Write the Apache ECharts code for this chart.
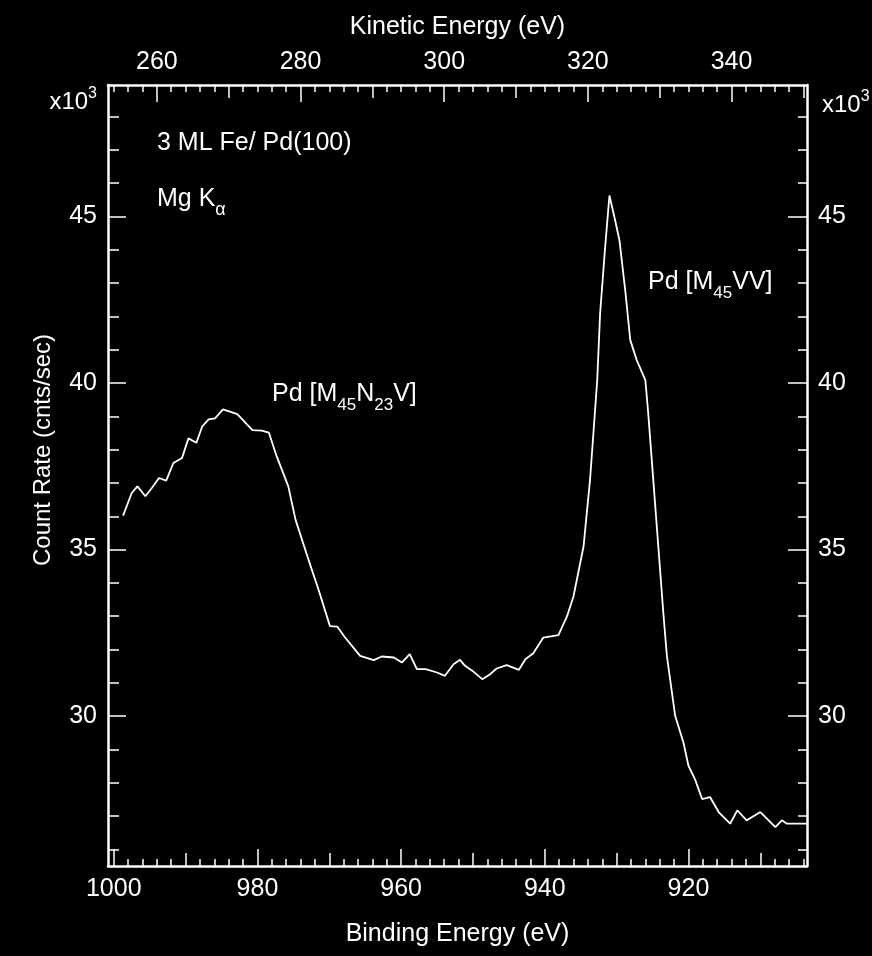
<!DOCTYPE html>
<html>
<head>
<meta charset="utf-8">
<script src="https://cdn.jsdelivr.net/npm/echarts@6/dist/echarts.min.js"></script>
<style>
html,body{margin:0;padding:0;background:#000;}
#chart{width:872px;height:956px;}
</style>
</head>
<body>
<div id="chart"></div>
<script>
// ---- data (binding energy in eV, count rate in 10^3 cnts/sec) ----
const bindingEnergy = [998.7,997.5,996.7,995.6,994.7,993.7,992.7,991.7,990.5,989.6,988.5,987.7,986.8,985.9,984.8,982.8,980.7,979.4,978.4,977.3,975.7,974.7,972.9,971.5,969.9,968.9,967.8,965.7,963.8,962.7,961.0,959.9,958.8,957.8,956.6,955.0,953.9,952.7,951.8,951.1,949.9,948.7,947.6,946.7,945.3,943.6,942.7,941.6,940.2,938.1,936.9,936.0,934.6,933.7,933.2,932.7,932.3,931.6,931.0,930.2,929.6,928.8,928.1,927.2,926.0,925.6,924.9,924.2,923.5,923.0,921.85,920.7,920.0,919.1,918.1,917.0,915.8,914.2,913.2,911.9,910.0,907.9,907.0,906.3,903.6];
const countRate = [36.02,36.70,36.90,36.60,36.85,37.15,37.07,37.60,37.75,38.34,38.21,38.69,38.91,38.94,39.21,39.07,38.59,38.57,38.51,37.79,36.90,35.90,34.70,33.80,32.70,32.69,32.36,31.81,31.68,31.79,31.76,31.61,31.86,31.41,31.41,31.31,31.21,31.56,31.69,31.51,31.33,31.11,31.26,31.43,31.53,31.39,31.71,31.89,32.36,32.43,33.00,33.60,35.10,37.10,38.59,40.09,42.09,44.08,45.63,44.88,44.28,42.78,41.29,40.69,40.09,39.09,37.10,35.10,33.10,31.80,30.01,29.21,28.51,28.11,27.51,27.57,27.12,26.77,27.17,26.87,27.12,26.67,26.87,26.77,26.77];

// ---- axis ranges and tick values ----
const BE_MIN = 903.5, BE_MAX = 1000.8;
const KE_MIN = 253.2, KE_MAX = 350.5;
const Y_MIN = 25.5, Y_MAX = 48.95;
const beMajor = [1000, 980, 960, 940, 920];
const beMid = [990, 970, 950, 930, 910];
const keMajor = [260, 280, 300, 320, 340];
const keMid = [270, 290, 310, 330, 350];
const yMajor = [30, 35, 40, 45];

function minorTicks(lo, hi, step, skip) {
  const out = [];
  for (let v = lo; v <= hi; v += step) {
    if (v % skip !== 0) out.push(v);
  }
  return out;
}
const beMinor = minorTicks(904, 1000, 2, 10);
const keMinor = minorTicks(254, 350, 2, 10);
const yMinor = minorTicks(26, 48, 1, 5);

const FONT = '"Liberation Sans", Arial, sans-serif';
const WHITE = '#ffffff';
const FS = 25;

function xAxisDef(pos, min, max, inverse, vals, len, withLabel, name, nameGap, showLine, labelMargin) {
  return {
    type: 'value', position: pos, min: min, max: max, inverse: inverse,
    splitLine: {show: false},
    axisLine: {show: showLine, onZero: false, lineStyle: {color: WHITE, width: 2.5}},
    axisTick: {show: true, inside: true, length: len, customValues: vals, lineStyle: {color: WHITE, width: 1.5}},
    axisLabel: {show: withLabel, customValues: vals, color: WHITE, fontSize: FS, fontFamily: FONT, margin: labelMargin,
                formatter: v => String(v)},
    name: name, nameLocation: 'middle', nameGap: nameGap,
    nameTextStyle: {color: WHITE, fontSize: FS, fontFamily: FONT}
  };
}
function yAxisDef(pos, vals, len, withLabel, showLine) {
  return {
    type: 'value', position: pos, min: Y_MIN, max: Y_MAX,
    splitLine: {show: false},
    axisLine: {show: showLine, onZero: false, lineStyle: {color: WHITE, width: 2.5}},
    axisTick: {show: true, inside: true, length: len, customValues: vals, lineStyle: {color: WHITE, width: 1.5}},
    axisLabel: {show: withLabel, customValues: vals, color: WHITE, fontSize: FS, fontFamily: FONT, margin: 11,
                formatter: v => String(v)}
  };
}

const seriesData = bindingEnergy.map((b, i) => [b, countRate[i]]);

const chart = echarts.init(document.getElementById('chart'), null, {renderer: 'canvas'});
chart.setOption({
  backgroundColor: '#000',
  animation: false,
  grid: {left: 108, right: 65, top: 85, bottom: 90, containLabel: false, outerBoundsMode: 'none'},
  xAxis: [
    xAxisDef('bottom', BE_MIN, BE_MAX, true, beMajor, 17, true, 'Binding Energy (eV)', 56, true, 11),
    xAxisDef('bottom', BE_MIN, BE_MAX, true, beMid, 13, false, '', 0, false, 11),
    xAxisDef('bottom', BE_MIN, BE_MAX, true, beMinor, 7, false, '', 0, false, 11),
    xAxisDef('top', KE_MIN, KE_MAX, false, keMajor, 17, true, 'Kinetic Energy (eV)', 45, true, 10),
    xAxisDef('top', KE_MIN, KE_MAX, false, keMid, 13, false, '', 0, false, 10),
    xAxisDef('top', KE_MIN, KE_MAX, false, keMinor, 7, false, '', 0, false, 10)
  ],
  yAxis: [
    yAxisDef('left', yMajor, 18, true, true),
    yAxisDef('left', yMinor, 11, false, false),
    yAxisDef('right', yMajor, 19, true, true),
    yAxisDef('right', yMinor, 9, false, false)
  ],
  series: [{
    type: 'line', xAxisIndex: 0, yAxisIndex: 0,
    data: seriesData, showSymbol: false, smooth: false,
    lineStyle: {color: WHITE, width: 1.8}
  }],
  graphic: [
    {type: 'text', x: 43, y: 450, rotation: Math.PI / 2,
     style: {text: 'Count Rate (cnts/sec)', fill: WHITE, fontSize: 24, fontFamily: FONT, align: 'center', verticalAlign: 'middle'}},
    {type: 'text', x: 97, y: 100,
     style: {text: '{m|x10}{s|3}', align: 'right', verticalAlign: 'middle',
       rich: {m: {fill: WHITE, fontSize: 24, fontFamily: FONT, lineHeight: 28, verticalAlign: 'bottom'},
              s: {fill: WHITE, fontSize: 16, fontFamily: FONT, lineHeight: 16, verticalAlign: 'top'}}}},
    {type: 'text', x: 822, y: 103,
     style: {text: '{m|x10}{s|3}', align: 'left', verticalAlign: 'middle',
       rich: {m: {fill: WHITE, fontSize: 24, fontFamily: FONT, lineHeight: 28, verticalAlign: 'bottom'},
              s: {fill: WHITE, fontSize: 16, fontFamily: FONT, lineHeight: 16, verticalAlign: 'top'}}}},
    {type: 'text', x: 157, y: 143,
     style: {text: '3 ML Fe/ Pd(100)', fill: WHITE, fontSize: 25, fontFamily: FONT, align: 'left', verticalAlign: 'middle'}},
    {type: 'text', x: 157, y: 203,
     style: {text: '{m|Mg K}{s|α}', align: 'left', verticalAlign: 'middle',
       rich: {m: {fill: WHITE, fontSize: 25, fontFamily: FONT, lineHeight: 32, verticalAlign: 'top'},
              s: {fill: WHITE, fontSize: 18, fontFamily: FONT, lineHeight: 18, verticalAlign: 'bottom'}}}},
    {type: 'text', x: 272, y: 398,
     style: {text: '{m|Pd [M}{s|45}{m|N}{s|23}{m|V]}', align: 'left', verticalAlign: 'middle',
       rich: {m: {fill: WHITE, fontSize: 25, fontFamily: FONT, lineHeight: 32, verticalAlign: 'top'},
              s: {fill: WHITE, fontSize: 17, fontFamily: FONT, lineHeight: 17, verticalAlign: 'bottom'}}}},
    {type: 'text', x: 648, y: 286,
     style: {text: '{m|Pd [M}{s|45}{m|VV]}', align: 'left', verticalAlign: 'middle',
       rich: {m: {fill: WHITE, fontSize: 25, fontFamily: FONT, lineHeight: 32, verticalAlign: 'top'},
              s: {fill: WHITE, fontSize: 17, fontFamily: FONT, lineHeight: 17, verticalAlign: 'bottom'}}}}
  ]
});
</script>
</body>
</html>
